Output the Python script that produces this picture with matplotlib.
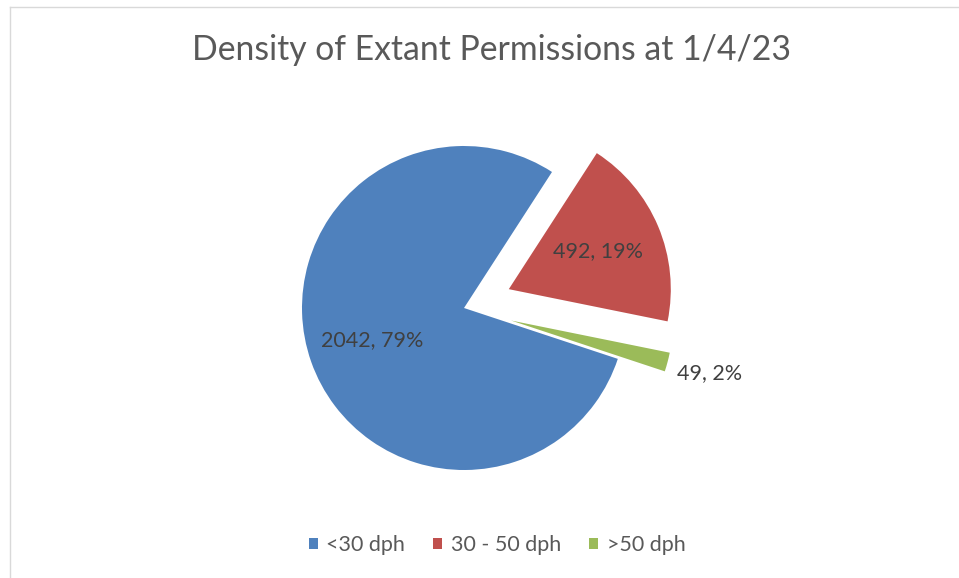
import numpy as np
import matplotlib
matplotlib.use('Agg')
import matplotlib.pyplot as plt
from matplotlib.lines import Line2D

categories = ['<30 dph', '30 - 50 dph', '>50 dph']
values = [2042, 492, 49]
colors = ['#4f81bd', '#c0504d', '#9bbb59']
explode = [0, 0.3, 0.3]
label_dist = [0.6, 0.6, 1.27]

TITLE = 'Density of Extant Permissions at 1/4/23'


def main():
    plt.rcParams['font.family'] = ['Lato', 'DejaVu Sans']

    fig = plt.figure(figsize=(9.59, 5.78), dpi=100)
    ax = fig.add_axes([0, 0, 1, 1])

    wedges, _ = ax.pie(values, explode=explode, colors=colors,
                       startangle=-18.3, counterclock=False, radius=1.0)

    total = sum(values)
    for w, v, d in zip(wedges, values, label_dist):
        ang = np.deg2rad((w.theta1 + w.theta2) / 2)
        cx, cy = w.center
        ax.text(cx + d * np.cos(ang), cy + d * np.sin(ang),
                f'{v}, {round(100 * v / total)}%',
                ha='center', va='center', fontsize=15.5, color='#404040')

    # pie centre sits at (464, 308) px, radius 162 px
    ax.set_xlim(-464 / 162, (959 - 464) / 162)
    ax.set_ylim(-(578 - 308) / 162, 308 / 162)
    ax.set_aspect('auto')
    ax.axis('off')

    fig.text(491 / 959, 1 - 50 / 578, TITLE, ha='center', va='center',
             fontsize=24.3, color='#595959')

    leg = fig.legend(wedges, categories, loc='center',
                     bbox_to_anchor=(497 / 959, 1 - 545 / 578), ncol=3,
                     frameon=False, fontsize=15.5, handlelength=0.42,
                     handleheight=0.42, handletextpad=0.4, columnspacing=1.3)
    for t in leg.get_texts():
        t.set_color('#595959')

    # chart border (top and left edges only are visible)
    fig.add_artist(Line2D([9.5 / 959, 1], [1 - 6.5 / 578, 1 - 6.5 / 578],
                          transform=fig.transFigure, color='#d9d9d9', lw=1))
    fig.add_artist(Line2D([9.5 / 959, 9.5 / 959], [0, 1 - 6.5 / 578],
                          transform=fig.transFigure, color='#d9d9d9', lw=1))

    fig.savefig('out.png', dpi=100)


if __name__ == '__main__':
    main()
